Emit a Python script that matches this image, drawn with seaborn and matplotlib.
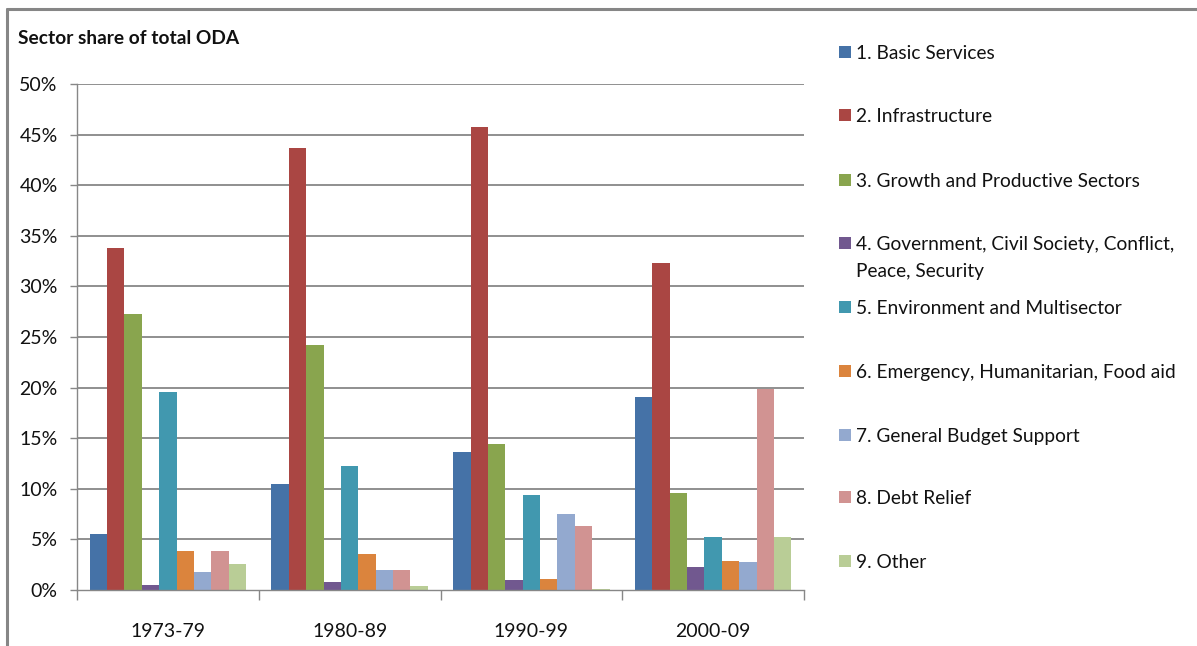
import matplotlib
matplotlib.use("Agg")
import matplotlib.pyplot as plt
from matplotlib.patches import Rectangle
from matplotlib.lines import Line2D
import seaborn as sns
import pandas as pd

# Sector shares of total ODA (%) by decade
periods = ["1973-79", "1980-89", "1990-99", "2000-09"]
sectors = [
    "1. Basic Services",
    "2. Infrastructure",
    "3. Growth and Productive Sectors",
    "4. Government, Civil Society, Conflict,\nPeace, Security",
    "5. Environment and Multisector",
    "6. Emergency, Humanitarian, Food aid",
    "7. General Budget Support",
    "8. Debt Relief",
    "9. Other",
]
basic_services = [5.5, 10.5, 13.6, 19.1]
infrastructure = [33.8, 43.7, 45.8, 32.3]
growth_productive = [27.3, 24.2, 14.4, 9.6]
government_civil = [0.5, 0.8, 1.0, 2.3]
environment_multi = [19.6, 12.3, 9.4, 5.2]
emergency_food = [3.9, 3.55, 1.1, 2.9]
budget_support = [1.8, 2.0, 7.5, 2.8]
debt_relief = [3.9, 2.0, 6.3, 19.9]
other = [2.6, 0.4, 0.1, 5.2]
yticks = [0, 5, 10, 15, 20, 25, 30, 35, 40, 45, 50]

colors = ["#4572A7", "#AA4643", "#89A54E", "#71588F", "#4198AF",
          "#DB843D", "#93A9CF", "#D19392", "#B9CD96"]

series = [basic_services, infrastructure, growth_productive, government_civil,
          environment_multi, emergency_food, budget_support, debt_relief, other]
rows = []
for name, vals in zip(sectors, series):
    for p, v in zip(periods, vals):
        rows.append({"period": p, "sector": name, "share": v})
df = pd.DataFrame(rows)

sns.set_theme(style="white")
plt.rcParams["font.family"] = ["Lato", "DejaVu Sans"]

W, H = 1197, 646
fig = plt.figure(figsize=(W / 100, H / 100), dpi=100)
ax = fig.add_axes([77 / W, 1 - 590 / H, (804 - 77) / W, (590 - 84) / H])

sns.barplot(data=df, x="period", y="share", hue="sector", order=periods,
            hue_order=sectors, palette=colors, saturation=1, width=0.86,
            dodge=True, ax=ax, legend=False, linewidth=0)

grid_c = "#878787"
ax.set_ylim(0, 50)
ax.set_xlim(-0.5, 3.5)
ax.set_yticks(yticks)
ax.set_yticklabels([f"{t}%" for t in yticks])
for t in yticks[1:]:
    ax.axhline(t, color=grid_c, lw=1.3, zorder=0)
ax.set_axisbelow(True)

for s in ["top", "right"]:
    ax.spines[s].set_visible(False)
for s in ["left", "bottom"]:
    ax.spines[s].set_color(grid_c)
    ax.spines[s].set_linewidth(1.0)

ax.set_xlabel("")
ax.set_ylabel("")
ax.tick_params(axis="y", which="major", length=5, width=1.0, color=grid_c,
               direction="out", pad=9, labelsize=14, labelcolor="#111111", left=True)
ax.tick_params(axis="x", which="major", length=0, pad=24, labelsize=14,
               labelcolor="#111111")
ax.set_xticks([-0.5, 0.5, 1.5, 2.5, 3.5], minor=True)
ax.tick_params(axis="x", which="minor", length=7, width=1.0, color=grid_c,
               direction="out", bottom=True)

# Chart title
fig.text(18 / W, 1 - 38 / H, "Sector share of total ODA", fontsize=13.8,
         fontweight="bold", color="#111111", ha="left", va="center")

# Chart frame (top and left edges)
fig.add_artist(Line2D([7 / W, 1.0], [1 - 9 / H, 1 - 9 / H], color="#868686",
                      lw=2.2, transform=fig.transFigure))
fig.add_artist(Line2D([7 / W, 7 / W], [1 - 9 / H, 0], color="#868686",
                      lw=2.2, transform=fig.transFigure))

# Legend
leg_y = [52, 115, 180, 243, 307, 371, 435, 497, 561]
for name, c, y in zip(sectors, colors, leg_y):
    fig.add_artist(Rectangle((839 / W, 1 - (y + 6) / H), 12 / W, 12 / H,
                             transform=fig.transFigure, facecolor=c,
                             edgecolor="none"))
    fig.text(856 / W, 1 - (y - 7) / H, name, fontsize=13.8, color="#111111",
             ha="left", va="top", linespacing=1.7)

fig.savefig("out.png", dpi=100)
